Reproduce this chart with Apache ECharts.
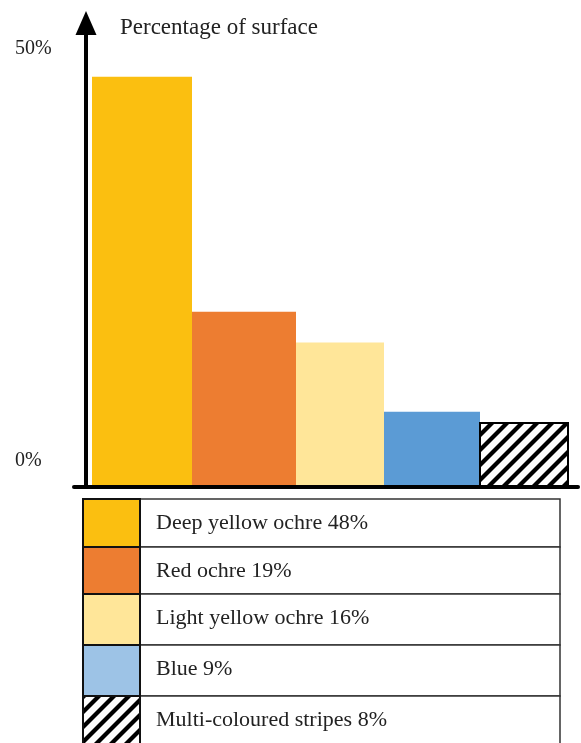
<!DOCTYPE html>
<html>
<head>
<meta charset="utf-8">
<title>Percentage of surface</title>
<script src="https://cdn.jsdelivr.net/npm/echarts/dist/echarts.min.js"></script>
<style>
    html, body { margin: 0; padding: 0; background: #fff; }
    #container { width: 581px; height: 743px; }
</style>
</head>
<body>
<div id="container"></div>
<script>
// data
var categories = ['Deep yellow ochre', 'Red ochre', 'Light yellow ochre', 'Blue', 'Multi-coloured stripes'];
var shares = [48, 19, 16, 9, 8];              // printed in the legend table
var barHeights = [48, 20.5, 16.9, 8.8, 7.5];  // bar tops as drawn
var barSpans = [100, 104, 88, 96, 88];        // bars have unequal widths
var yTickValues = [0, 50];
var yTickLabels = ['0%', '50%'];

var barColors = ['#FBBF10', '#ED7D31', '#FFE699', '#5B9BD5', 'stripes'];
var swatchColors = ['#FBBF10', '#ED7D31', '#FFE699', '#9DC3E6', 'stripes'];

var FONT = '"Liberation Serif", "DejaVu Serif", serif';

// black diagonal stripes on white, big tile so seams don't show
function makeStripes() {
    var step = 15, size = 60;
    var c = document.createElement('canvas');
    c.width = size;
    c.height = size;
    var ctx = c.getContext('2d');
    ctx.fillStyle = '#fff';
    ctx.fillRect(0, 0, size, size);
    ctx.strokeStyle = '#000';
    ctx.lineWidth = 4.2;
    ctx.lineCap = 'square';
    for (var k = -size / step - 1; k <= size / step + 1; k++) {
        ctx.beginPath();
        ctx.moveTo(k * step - 5, size + 5);
        ctx.lineTo(k * step + size + 5, -5);
        ctx.stroke();
    }
    return {image: c, repeat: 'repeat'};
}
var stripes = makeStripes();

function fillOf(c) {
    return c === 'stripes' ? stripes : c;
}

// bars as [x0, x1, height]
var barData = [];
var acc = 0;
for (var i = 0; i < categories.length; i++) {
    barData.push([acc, acc + barSpans[i], barHeights[i]]);
    acc += barSpans[i];
}

// legend table under the chart
function buildTable() {
    var rowTops = [499, 547, 594, 645, 696];
    var rowBottoms = [547, 594, 645, 696, 760];
    var left = 83, mid = 140, right = 560;
    var els = [];
    for (var i = 0; i < categories.length; i++) {
        var h = rowBottoms[i] - rowTops[i];
        els.push({
            type: 'rect',
            shape: {x: mid, y: rowTops[i], width: right - mid, height: h},
            style: {fill: '#fff', stroke: '#333', lineWidth: 1.5}
        });
        els.push({
            type: 'rect',
            shape: {x: left, y: rowTops[i], width: mid - left, height: h},
            style: {fill: fillOf(swatchColors[i]), stroke: '#111', lineWidth: 2}
        });
        els.push({
            type: 'text',
            x: 156,
            y: rowTops[i] + 24,
            style: {
                text: categories[i] + ' ' + shares[i] + '%',
                fontSize: 22,
                fontFamily: FONT,
                fill: '#222',
                verticalAlign: 'middle'
            }
        });
    }
    return els;
}

var dom = document.getElementById('container');
var myChart = echarts.init(dom, null, {renderer: 'canvas'});
var option = {
    animation: false,
    backgroundColor: '#fff',
    title: {
        text: 'Percentage of surface',
        left: 120,
        top: 16,
        padding: 0,
        textStyle: {
            color: '#222',
            fontWeight: 'normal',
            fontSize: 23,
            fontFamily: FONT
        }
    },
    grid: {
        left: 74,
        right: 3,
        top: 23,
        bottom: 256,
        containLabel: false,
        outerBoundsMode: 'none'
    },
    xAxis: {
        type: 'value',
        min: -18,
        max: 486,
        z: 10,
        axisLine: {show: true, onZero: false, lineStyle: {color: '#000', width: 4}},
        axisTick: {show: false},
        axisLabel: {show: false},
        splitLine: {show: false}
    },
    yAxis: [
        {
            // scale of the bars, carries the arrow
            type: 'value',
            min: 0,
            max: 54.3,
            position: 'left',
            offset: -12,
            axisLine: {
                show: true,
                onZero: false,
                symbol: ['none', 'triangle'],
                symbolSize: [21, 24],
                lineStyle: {color: '#000', width: 4}
            },
            axisTick: {show: false},
            axisLabel: {show: false},
            splitLine: {show: false}
        },
        {
            // tick labels sit a little off the bar scale in the picture
            type: 'value',
            min: -3.22,
            max: 53.09,
            position: 'left',
            axisLine: {show: false, onZero: false},
            axisTick: {show: false},
            splitLine: {show: false},
            axisLabel: {
                show: true,
                showMinLabel: true,
                showMaxLabel: true,
                align: 'left',
                margin: 59,
                color: '#222',
                fontSize: 20,
                fontFamily: FONT,
                formatter: function (v) {
                    var k = yTickValues.indexOf(Math.round(v * 1000) / 1000);
                    return k >= 0 ? yTickLabels[k] : '';
                }
            }
        }
    ],
    series: [
        {
            type: 'custom',
            xAxisIndex: 0,
            yAxisIndex: 0,
            data: barData,
            encode: {x: [0, 1], y: 2},
            renderItem: function (params, api) {
                var topLeft = api.coord([api.value(0), api.value(2)]);
                var bottomRight = api.coord([api.value(1), 0]);
                var c = barColors[params.dataIndex];
                return {
                    type: 'rect',
                    shape: {
                        x: topLeft[0],
                        y: topLeft[1],
                        width: bottomRight[0] - topLeft[0],
                        height: bottomRight[1] - topLeft[1]
                    },
                    style: {
                        fill: fillOf(c),
                        stroke: c === 'stripes' ? '#000' : null,
                        lineWidth: 2
                    }
                };
            }
        }
    ],
    graphic: {elements: buildTable()}
};

if (option && typeof option === "object") {
    myChart.setOption(option, true);
}
</script>
</body>
</html>
